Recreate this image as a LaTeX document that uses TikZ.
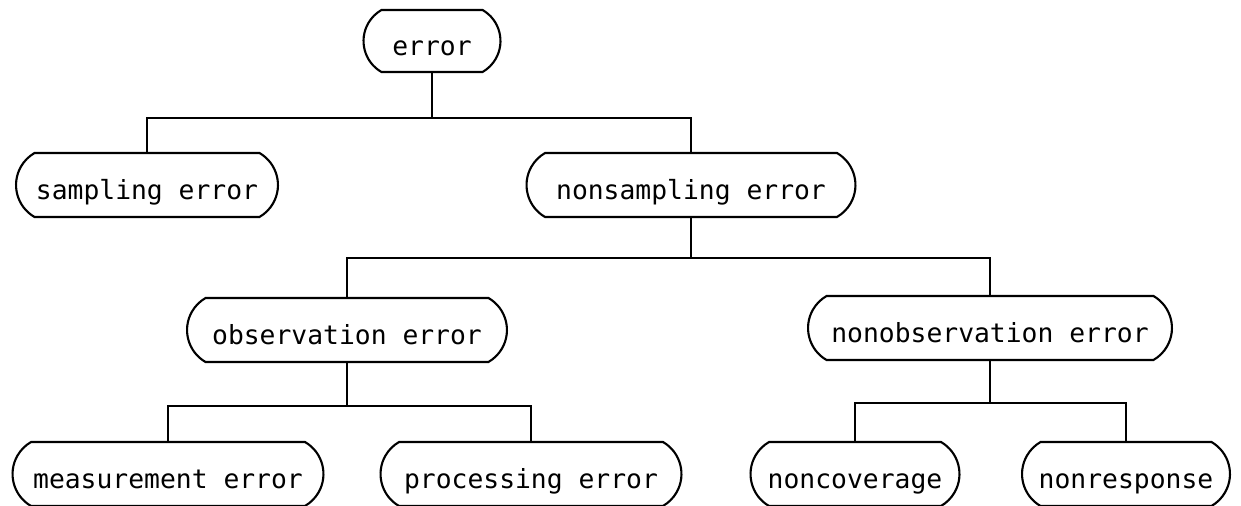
\documentclass[tikz,border=0pt]{standalone}
\usepackage{fontspec}
\setmonofont{DejaVu Sans Mono}
\usepackage{tikz}
\usetikzlibrary{shapes.misc,positioning}

\begin{document}
\begin{tikzpicture}[
    x=0.02cm, y=-0.02cm,
    term/.style={draw, line width=1.2pt, rounded rectangle, rounded rectangle arc length=120,
        font=\ttfamily\fontsize{15}{17}\selectfont,
        text height=17pt, text depth=0pt, inner sep=2pt, minimum height=1.28cm},
    link/.style={line width=1.2pt}
]
\useasboundingbox (0,0) rectangle (1241,506);

\node[term, minimum width=2.88cm, minimum height=1.24cm] (error) at (432,41) {error};

\node[term, minimum width=5.38cm] (sampling) at (147,185) {sampling error};
\node[term, minimum width=6.72cm] (nonsampling) at (691,185) {nonsampling error};

\node[term, minimum width=6.54cm] (observation) at (347,330) {observation error};
\node[term, minimum width=7.42cm] (nonobservation) at (990,328) {nonobservation error};

\node[term, minimum width=6.36cm] (measurement) at (168,474) {measurement error};
\node[term, minimum width=6.16cm] (processing) at (531,474) {processing error};
\node[term, minimum width=4.32cm] (noncoverage) at (855,474) {noncoverage};
\node[term, minimum width=4.30cm] (nonresponse) at (1126,474) {nonresponse};

% tree connectors
\coordinate (j1) at (432,118);
\coordinate (j2) at (691,258);
\coordinate (j3) at (347,406);
\coordinate (j4) at (990,403);

\draw[link] (error.south) -- (j1);
\draw[link] (sampling.north) |- (j1) -| (nonsampling.north);
\draw[link] (nonsampling.south) -- (j2);
\draw[link] (observation.north) |- (j2) -| (nonobservation.north);
\draw[link] (observation.south) -- (j3);
\draw[link] (measurement.north) |- (j3) -| (processing.north);
\draw[link] (nonobservation.south) -- (j4);
\draw[link] (noncoverage.north) |- (j4) -| (nonresponse.north);
\end{tikzpicture}
\end{document}
